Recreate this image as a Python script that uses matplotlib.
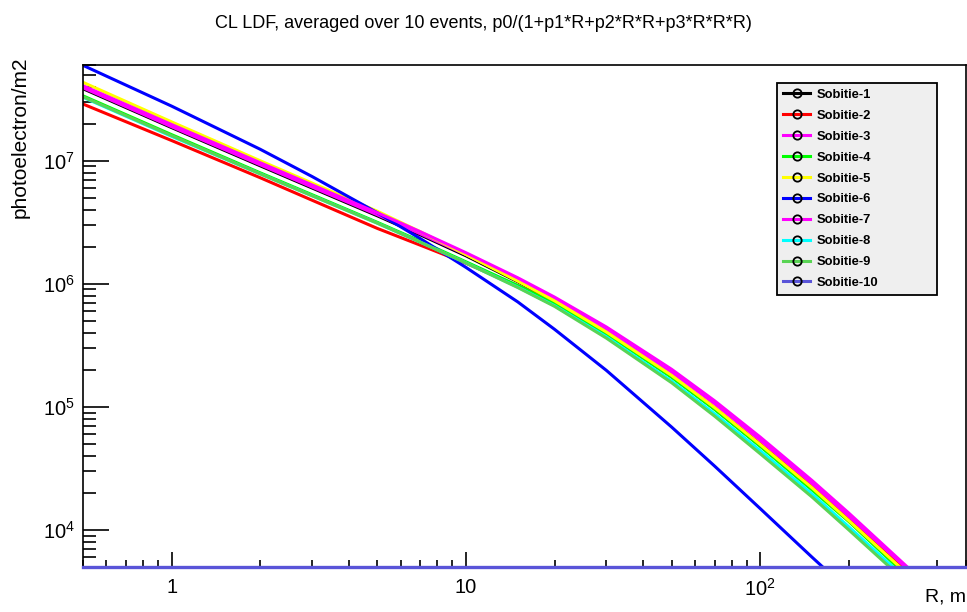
import matplotlib
matplotlib.use("Agg")
import matplotlib.pyplot as plt
from matplotlib.lines import Line2D
from matplotlib.ticker import LogLocator, NullFormatter, FixedLocator, FixedFormatter

plt.rcParams['font.family'] = ['Liberation Sans', 'DejaVu Sans']
plt.rcParams['mathtext.fontset'] = 'custom'
plt.rcParams['mathtext.rm'] = 'Liberation Sans'
plt.rcParams['mathtext.it'] = 'Liberation Sans'

# R, m
r_grid = [0.5, 1, 2, 3, 5, 7, 10, 15, 20, 30, 50, 70, 100, 150, 200]
y_bottom = 5000   # axis minimum, curves end there

# photoelectron/m2 at r_grid, last R = where the curve reaches the bottom
sob1 = [3.85e7, 1.86e7, 9.10e6, 6.01e6, 3.57e6, 2.50e6, 1.69e6, 1.04e6, 7.19e5, 4.02e5, 1.76e5, 9.64e4, 4.83e4, 2.17e4, 1.19e4]
sob1_end = 300
sob2 = [2.89e7, 1.46e7, 7.28e6, 4.78e6, 2.82e6, 2.06e6, 1.47e6, 9.62e5, 6.95e5, 3.97e5, 1.78e5, 9.86e4, 5.00e4, 2.25e4, 1.22e4]
sob2_end = 302
sob3 = [3.92e7, 1.89e7, 9.27e6, 6.12e6, 3.64e6, 2.55e6, 1.73e6, 1.07e6, 7.50e5, 4.21e5, 1.91e5, 1.06e5, 5.36e4, 2.38e4, 1.29e4]
sob3_end = 311
sob4 = [3.37e7, 1.63e7, 7.98e6, 5.30e6, 3.16e6, 2.22e6, 1.51e6, 9.68e5, 6.92e5, 3.93e5, 1.74e5, 9.53e4, 4.78e4, 2.11e4, 1.17e4]
sob4_end = 292
sob5 = [4.34e7, 2.07e7, 1.00e7, 6.59e6, 3.89e6, 2.65e6, 1.73e6, 1.05e6, 7.28e5, 4.06e5, 1.80e5, 9.86e4, 4.94e4, 2.20e4, 1.19e4]
sob5_end = 298
sob6 = [5.96e7, 2.78e7, 1.24e7, 7.45e6, 3.78e6, 2.33e6, 1.36e6, 7.13e5, 4.27e5, 1.98e5, 6.85e4, 3.30e4, 1.49e4, 6.00e3]
sob6_end = 163
sob7 = [4.07e7, 1.97e7, 9.64e6, 6.37e6, 3.78e6, 2.65e6, 1.79e6, 1.12e6, 7.80e5, 4.46e5, 2.02e5, 1.12e5, 5.68e4, 2.52e4, 1.37e4]
sob7_end = 316
sob8 = [3.28e7, 1.58e7, 7.83e6, 5.20e6, 3.11e6, 2.18e6, 1.48e6, 9.40e5, 6.64e5, 3.71e5, 1.62e5, 8.79e4, 4.41e4, 1.96e4, 1.06e4]
sob8_end = 282
sob9 = [3.31e7, 1.60e7, 7.83e6, 5.20e6, 3.11e6, 2.18e6, 1.48e6, 9.33e5, 6.56e5, 3.62e5, 1.57e5, 8.40e4, 4.16e4, 1.85e4, 1.00e4]
sob9_end = 275
# Sobitie-10 lies below the axis minimum, drawn along the bottom
sob10_r = [0.5, 500]
sob10 = [5000, 5000]

labels = ["Sobitie-%d" % i for i in range(1, 11)]
colors = ["#000000", "#ff0000", "#ff00ff", "#00ff00", "#ffff00",
          "#0000ff", "#ff00ff", "#00ffff", "#59d454", "#5954d8"]
series = [sob1, sob2, sob3, sob4, sob5, sob6, sob7, sob8, sob9]
ends = [sob1_end, sob2_end, sob3_end, sob4_end, sob5_end, sob6_end, sob7_end, sob8_end, sob9_end]

fig = plt.figure(figsize=(9.67, 6.12), dpi=100)
ax = fig.add_axes([83/967, 45/612, 883/967, 502/612])

for vals, rend, c in zip(series, ends, colors):
    rr = r_grid[:len(vals)] + [rend]
    ax.plot(rr, vals + [y_bottom], color=c, lw=2.2, solid_joinstyle='round')
ax.plot(sob10_r, sob10, color=colors[9], lw=2.4, clip_on=False, zorder=5)

ax.set_xscale('log')
ax.set_yscale('log')
ax.set_xlim(0.5, 500)
ax.set_ylim(5000, 6e7)

ax.xaxis.set_major_locator(FixedLocator([1, 10, 100]))
ax.xaxis.set_major_formatter(FixedFormatter(['1', '10', r'$10^{2}$']))
ax.xaxis.set_minor_locator(LogLocator(base=10, subs=range(2, 10), numticks=20))
ax.xaxis.set_minor_formatter(NullFormatter())
ax.yaxis.set_major_locator(FixedLocator([1e4, 1e5, 1e6, 1e7]))
ax.yaxis.set_major_formatter(FixedFormatter([r'$10^{4}$', r'$10^{5}$', r'$10^{6}$', r'$10^{7}$']))
ax.yaxis.set_minor_locator(LogLocator(base=10, subs=range(2, 10), numticks=20))
ax.yaxis.set_minor_formatter(NullFormatter())

ax.tick_params(axis='x', which='major', direction='in', length=15/1.389, width=1.2, labelsize=14.5, pad=8)
ax.tick_params(axis='x', which='minor', direction='in', length=7.5/1.389, width=1.2)
ax.tick_params(axis='y', which='major', direction='in', length=26/1.389, width=1.2, labelsize=14.5, pad=6)
ax.tick_params(axis='y', which='minor', direction='in', length=13/1.389, width=1.2)
for s in ax.spines.values():
    s.set_linewidth(1.2)

fig.text(0.5, 1 - 23/612, "CL LDF, averaged over 10 events, p0/(1+p1*R+p2*R*R+p3*R*R*R)",
         ha='center', va='center', fontsize=13)
fig.text(20/967, 1 - 57/612, "photoelectron/m2", rotation=90, ha='center', va='top', fontsize=15)
fig.text(966/967, 1 - 597/612, "R, m", ha='right', va='center', fontsize=14)

handles = [Line2D([0], [0], color=c, lw=2.2, marker='o', markersize=6,
                  markerfacecolor='none', markeredgecolor='k', markeredgewidth=1.3)
           for c in colors]
leg = ax.legend(handles, labels, loc='upper left',
                bbox_to_anchor=(777/967, 1 - 83/612, 160/967, 0.0),
                bbox_transform=fig.transFigure, mode='expand',
                prop={'weight': 'bold', 'size': 9.4}, labelspacing=0.67,
                borderpad=0.45, handlelength=2.1, handletextpad=0.47,
                fancybox=False, framealpha=1, edgecolor='k', facecolor='#efefef',
                borderaxespad=0)
leg.get_frame().set_linewidth(1.3)

fig.savefig("out.png", dpi=100, facecolor='white')
